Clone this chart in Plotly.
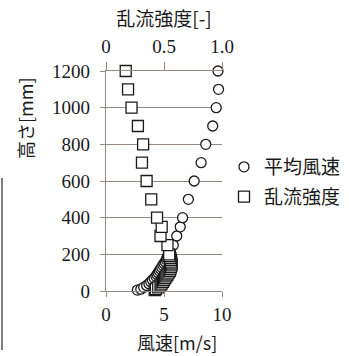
import plotly.graph_objects as go

# Measurement heights [mm]
height_mm = [5, 10, 20, 30, 40, 50, 60, 70, 80, 90, 100, 110, 120, 130, 140, 150,
             160, 170, 180, 190, 200, 250, 300, 350, 400, 500, 600, 700, 800, 900,
             1000, 1100, 1200]

# Mean wind speed [m/s]
mean_speed = [2.7, 3.0, 3.25, 3.5, 3.7, 3.85, 4.0, 4.15, 4.3, 4.4, 4.5, 4.6, 4.7,
              4.8, 4.9, 5.0, 5.1, 5.2, 5.25, 5.3, 5.4, 5.8, 6.1, 6.4, 6.6, 7.1,
              7.6, 8.2, 8.6, 9.2, 9.5, 9.7, 9.65]

# Turbulence intensity [-]
turbulence = [0.42, 0.43, 0.45, 0.47, 0.48, 0.49, 0.50, 0.51, 0.52, 0.53, 0.54,
              0.55, 0.555, 0.56, 0.565, 0.565, 0.56, 0.56, 0.555, 0.55, 0.545,
              0.53, 0.47, 0.48, 0.44, 0.39, 0.35, 0.31, 0.32, 0.275, 0.22, 0.19,
              0.17]

speed_ticks = [0, 5, 10]
ti_ticks = [0, 0.5, 1.0]
ti_ticktext = ["0", "0.5", "1.0"]
height_ticks = [0, 200, 400, 600, 800, 1000, 1200]

AXIS_GRAY = "#968a80"
INK = "#1a1a1a"
NUM_FONT = dict(family="Liberation Serif, Times New Roman, serif", size=19, color=INK)
JP_FONT = dict(family="Noto Sans CJK JP", size=18, color=INK)

fig = go.Figure()

fig.add_trace(go.Scatter(
    x=mean_speed, y=height_mm, name="平均風速", mode="markers",
    marker=dict(symbol="circle", size=10, color="white",
                line=dict(color=INK, width=1.3)),
    xaxis="x", yaxis="y", cliponaxis=False, legendgroup="a",
))
fig.add_trace(go.Scatter(
    x=turbulence, y=height_mm, name="乱流強度", mode="markers",
    marker=dict(symbol="square", size=11, color="white",
                line=dict(color=INK, width=1.3)),
    xaxis="x2", yaxis="y", cliponaxis=False, legendgroup="b",
))

W, H = 349, 356
L, R, T, B = 106, 222, 71, 291  # plot area edges in pixels


def px_x(p):
    return (p - L) / (R - L)


def px_y(p):
    return (B - p) / (B - T)


fig.update_layout(
    width=W, height=H,
    font=NUM_FONT,
    margin=dict(l=L, r=W - R, t=T, b=H - B, pad=0, autoexpand=False),
    paper_bgcolor="white", plot_bgcolor="white",
    xaxis=dict(
        range=[0, 10], tickvals=speed_ticks, showgrid=False, zeroline=False,
        showline=True, linecolor=AXIS_GRAY, linewidth=1.2,
        ticks="outside", ticklen=5, tickcolor=AXIS_GRAY, tickwidth=1.2,
        tickfont=NUM_FONT, ticklabelstandoff=1, automargin=False,
    ),
    xaxis2=dict(
        range=[0, 1], tickvals=ti_ticks, ticktext=ti_ticktext,
        overlaying="x", side="top", showgrid=False, zeroline=False,
        showline=True, linecolor=AXIS_GRAY, linewidth=1.2,
        ticks="outside", ticklen=8, tickcolor=AXIS_GRAY, tickwidth=1.2,
        tickfont=NUM_FONT, ticklabelstandoff=1, automargin=False,
        title=dict(text="乱流強度[-]", font=dict(JP_FONT, size=19), standoff=4),
    ),
    yaxis=dict(
        range=[0, 1200], tickvals=height_ticks, showgrid=True,
        gridcolor=AXIS_GRAY, gridwidth=1.2, zeroline=False,
        showline=True, linecolor=AXIS_GRAY, linewidth=1.2,
        ticks="outside", ticklen=5, tickcolor=AXIS_GRAY, tickwidth=1.2,
        tickfont=NUM_FONT, ticklabelstandoff=6, automargin=False,
    ),
    legend=dict(
        x=px_x(224), y=px_y(148), xanchor="left", yanchor="top",
        font=dict(family="Noto Sans CJK JP", size=19, color=INK),
        bgcolor="rgba(0,0,0,0)", traceorder="grouped", tracegroupgap=2,
        itemwidth=30,
    ),
    annotations=[
        dict(text="風速[m/s]", x=px_x(177), y=px_y(342), xref="paper",
             yref="paper", showarrow=False, font=JP_FONT,
             xanchor="center", yanchor="middle"),
        dict(text="高さ[mm]", x=px_x(25), y=px_y(118), xref="paper",
             yref="paper", showarrow=False, font=JP_FONT, textangle=-90,
             xanchor="center", yanchor="middle"),
    ],
    shapes=[
        dict(type="line", xref="paper", yref="paper",
             x0=px_x(2), x1=px_x(2), y0=px_y(178), y1=px_y(350),
             line=dict(color="#555555", width=1.5)),
    ],
)

fig.write_html("out.html")
